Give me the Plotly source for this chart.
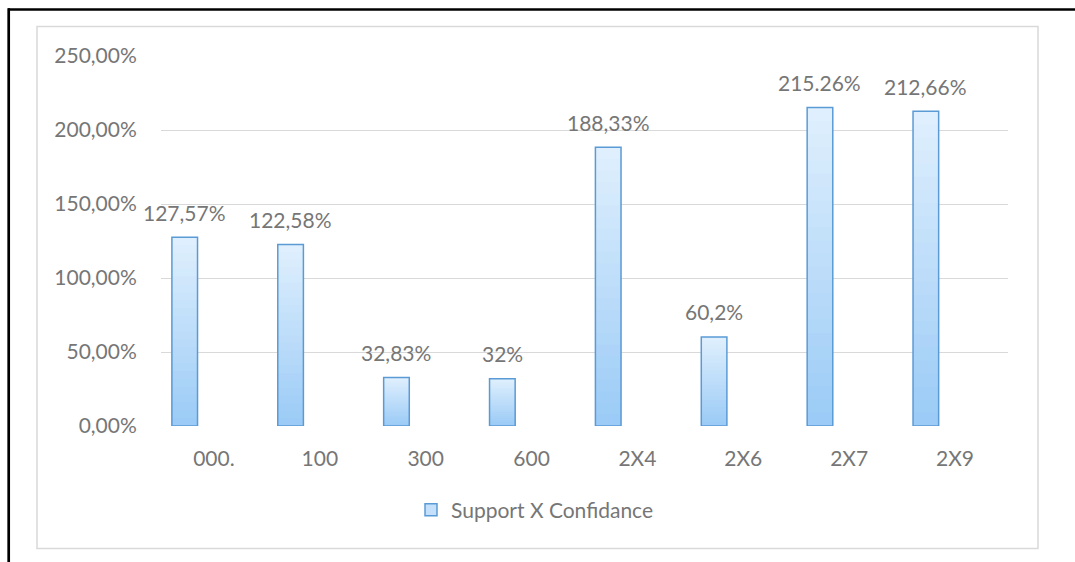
import plotly.graph_objects as go

categories = ["000.", "100", "300", "600", "2X4", "2X6", "2X7", "2X9"]
values = [127.57, 122.58, 32.83, 32, 188.33, 60.2, 215.26, 212.66]
value_labels = ["127,57%", "122,58%", "32,83%", "32%", "188,33%", "60,2%", "215.26%", "212,66%"]
y_tickvals = [0, 50, 100, 150, 200, 250]
y_ticktext = ["0,00%", "50,00%", "100,00%", "150,00%", "200,00%", "250,00%"]
series_name = "Support X Confidance"

W, H = 1075, 562
L, R, T, B = 161, 1008, 56, 426
FONT = "Lato"
FS = 21
TXT = "#767676"

BAR_OFFSET = -0.397
BAR_WIDTH = 0.242
top_rgb = (223, 239, 253)
bot_rgb = (155, 203, 246)
N = 24

fig = go.Figure()
for k in range(N, 0, -1):
    f = (k - 1) / (N - 1)
    c = tuple(round(bot_rgb[i] + (top_rgb[i] - bot_rgb[i]) * f) for i in range(3))
    fig.add_trace(go.Bar(
        x=categories, y=[v * k / N for v in values],
        offset=BAR_OFFSET, width=BAR_WIDTH,
        marker=dict(color="rgb(%d,%d,%d)" % c, line=dict(width=0)),
        showlegend=False, hoverinfo="skip"))
# outline
fig.add_trace(go.Bar(
    x=categories, y=values, offset=BAR_OFFSET, width=BAR_WIDTH,
    marker=dict(color="rgba(0,0,0,0)", line=dict(color="#5b9bd5", width=1.5)),
    showlegend=False))
# legend entry
fig.add_trace(go.Bar(
    x=categories, y=[None] * len(categories), name=series_name,
    marker=dict(color="#c4e0fa", line=dict(color="#5b9bd5", width=1.5)),
    showlegend=True))

cat_w = (R - L) / len(categories)
xshift = (BAR_OFFSET + BAR_WIDTH / 2) * cat_w
for i, (v, t) in enumerate(zip(values, value_labels)):
    fig.add_annotation(x=i, y=v, text=t, showarrow=False, xref="x", yref="y",
                       xshift=xshift, yshift=25,
                       font=dict(family=FONT, size=FS, color=TXT))

def px(x):
    return (x - L) / (R - L)

def py(y):
    return (B - y) / (B - T)

shapes = [
    dict(type="line", xref="paper", yref="paper", x0=px(8), x1=px(W + 5), y0=py(9.5), y1=py(9.5),
         line=dict(color="black", width=2.7)),
    dict(type="line", xref="paper", yref="paper", x0=px(8.7), x1=px(8.7), y0=py(8.2), y1=py(H + 5),
         line=dict(color="black", width=2.7)),
    dict(type="rect", xref="paper", yref="paper", x0=px(37), x1=px(1038), y0=py(26.5), y1=py(548.5),
         line=dict(color="#d9d9d9", width=1.5), fillcolor="rgba(0,0,0,0)"),
]

fig.update_layout(
    width=W, height=H,
    margin=dict(l=L, r=W - R, t=T, b=H - B, autoexpand=False),
    paper_bgcolor="white", plot_bgcolor="white",
    barmode="overlay",
    shapes=shapes,
    font=dict(family=FONT, size=FS, color=TXT),
    showlegend=True,
    legend=dict(orientation="h", xref="container", yref="container",
                x=411 / W, xanchor="left", y=1 - 510 / H, yanchor="middle",
                font=dict(family=FONT, size=FS, color=TXT),
                itemwidth=30, bgcolor="rgba(0,0,0,0)"),
    xaxis=dict(type="category", range=[-0.5, len(categories) - 0.5], showgrid=False,
               showline=False, zeroline=False, ticks="outside", ticklen=14,
               tickcolor="rgba(0,0,0,0)", tickfont=dict(family=FONT, size=FS, color=TXT)),
    yaxis=dict(range=[0, 250], tickvals=y_tickvals, ticktext=y_ticktext,
               showgrid=True, gridcolor="#d9d9d9", gridwidth=1.3, zeroline=False,
               showline=False, ticks="outside", ticklen=19, tickcolor="rgba(0,0,0,0)",
               tickfont=dict(family=FONT, size=FS, color=TXT)),
)

fig.write_html("out.html", config={"displayModeBar": False})
